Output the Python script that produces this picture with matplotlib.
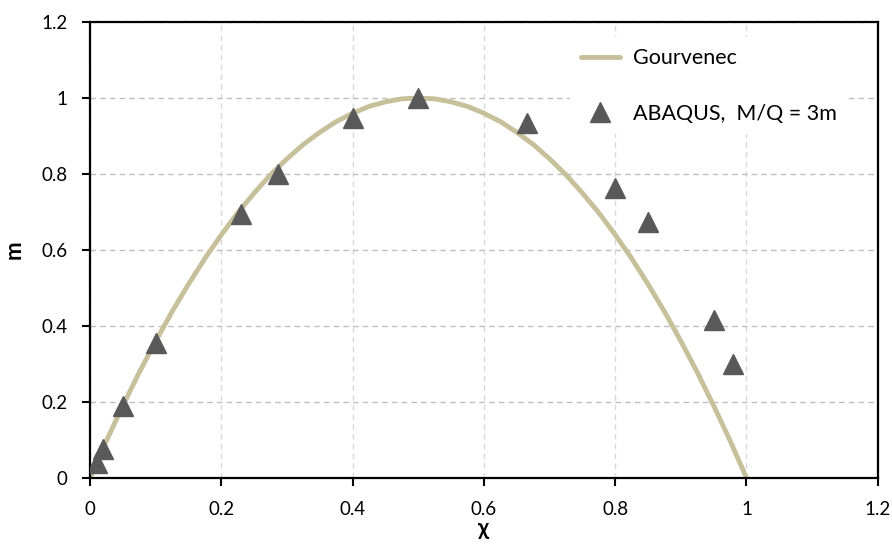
import matplotlib
matplotlib.use("Agg")
import matplotlib.pyplot as plt

plt.rcParams["font.family"] = ["Lato", "DejaVu Sans"]

# Gourvenec envelope, read at 0.025 steps of chi
CHI_CURVE = [0.0, 0.025, 0.05, 0.075, 0.10, 0.125, 0.15, 0.175, 0.20, 0.225,
             0.25, 0.275, 0.30, 0.325, 0.35, 0.375, 0.40, 0.425, 0.45, 0.475,
             0.50, 0.525, 0.55, 0.575, 0.60, 0.625, 0.65, 0.675, 0.70, 0.725,
             0.75, 0.775, 0.80, 0.825, 0.85, 0.875, 0.90, 0.925, 0.95, 0.975, 1.0]
M_CURVE = [0.0, 0.098, 0.190, 0.278, 0.360, 0.438, 0.510, 0.578, 0.640, 0.698,
           0.750, 0.798, 0.840, 0.878, 0.910, 0.938, 0.960, 0.978, 0.990, 0.998,
           1.0, 0.998, 0.990, 0.978, 0.960, 0.938, 0.910, 0.878, 0.840, 0.798,
           0.750, 0.698, 0.640, 0.578, 0.510, 0.438, 0.360, 0.278, 0.190, 0.098, 0.0]

# ABAQUS results, M/Q = 3m
CHI_FE = [0.01, 0.02, 0.05, 0.10, 0.23, 0.286, 0.40, 0.50, 0.665, 0.80, 0.85, 0.95, 0.98]
M_FE = [0.04, 0.075, 0.19, 0.355, 0.695, 0.80, 0.947, 1.0, 0.935, 0.763, 0.674, 0.416, 0.30]

TICKS = [0, 0.2, 0.4, 0.6, 0.8, 1.0, 1.2]
TICK_LABELS = ["0", "0.2", "0.4", "0.6", "0.8", "1", "1.2"]

fig, ax = plt.subplots(figsize=(8.92, 5.53), dpi=100)
fig.subplots_adjust(left=0.101, right=0.984, top=0.960, bottom=0.136)

ax.plot(CHI_CURVE, M_CURVE, color="#C8BF9B", lw=3.5, label="Gourvenec",
        solid_capstyle="round", solid_joinstyle="round", zorder=2)
ax.plot(CHI_FE, M_FE, ls="none", marker="^", ms=14.5, color="#595959",
        mec="#595959", label="ABAQUS,  M/Q = 3m", zorder=3)

ax.set_xlim(0, 1.2)
ax.set_ylim(0, 1.2)
ax.set_xticks(TICKS)
ax.set_yticks(TICKS)
ax.set_xticklabels(TICK_LABELS)
ax.set_yticklabels(TICK_LABELS)
ax.tick_params(direction="out", length=6, width=1.5, labelsize=13.5)
ax.tick_params(axis="x", pad=11)
ax.tick_params(axis="y", pad=10)

ax.yaxis.grid(True, ls=(0, (4, 3)), color="#BFBFBF", lw=1)
ax.xaxis.grid(True, ls=(0, (4, 3)), color="#D9D9D9", lw=1)
ax.set_axisbelow(True)
for s in ax.spines.values():
    s.set_linewidth(1.6)

ax.set_xlabel("χ", fontsize=16, fontweight="bold", labelpad=0)
ax.set_ylabel("m", fontsize=16, fontweight="bold", labelpad=12)

leg = ax.legend(loc="upper right", bbox_to_anchor=(0.975, 0.99), fontsize=15.5,
                frameon=True, fancybox=False, edgecolor="none", framealpha=1,
                handlelength=1.8, handletextpad=0.6, labelspacing=1.65,
                borderpad=0.5)

fig.savefig("out.png", dpi=100)
